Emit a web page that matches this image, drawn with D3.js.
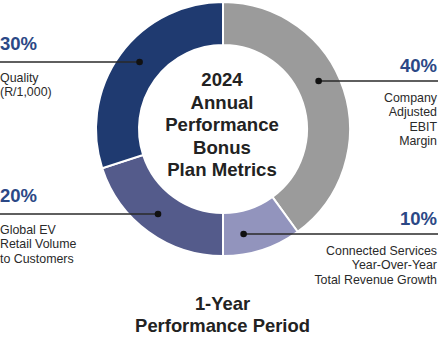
<!DOCTYPE html>
<html><head><meta charset="utf-8">
<script src="https://cdn.jsdelivr.net/npm/d3@7"></script>
<style>html,body{margin:0;padding:0;background:#fff;}svg{display:block;font-family:"Liberation Sans",Arial,sans-serif;}</style>
</head><body>
<svg id="chart" width="438" height="339"></svg>
<script>
const categories = ["Company Adjusted EBIT Margin", "Connected Services Year-Over-Year Total Revenue Growth", "Global EV Retail Volume to Customers", "Quality (R/1,000)"];
const values = [40, 10, 20, 30];
const percentLabels = ["40%", "10%", "20%", "30%"];
const labelLines = [
  ["Company", "Adjusted", "EBIT", "Margin"],
  ["Connected Services", "Year-Over-Year", "Total Revenue Growth"],
  ["Global EV", "Retail Volume", "to Customers"],
  ["Quality", "(R/1,000)"]
];
const colors = ["#9b9b9b", "#9294bd", "#545b8b", "#1f3a70"];
const centerTitle = ["2024", "Annual", "Performance", "Bonus", "Plan Metrics"];
const bottomTitle = ["1-Year", "Performance Period"];

const svg = d3.select("#chart");
const W = 438, cx = 223, cy = 129, R = 127, r = 84, rm = 107;

const pie = d3.pie().sort(null).startAngle(0).endAngle(2 * Math.PI);
const arc = d3.arc().innerRadius(r).outerRadius(R);
const g = svg.append("g").attr("transform", `translate(${cx},${cy})`);
g.selectAll("path").data(pie(values)).join("path")
  .attr("d", arc).attr("fill", (d, i) => colors[i])
  .attr("stroke", "#fff").attr("stroke-width", 2);

// callout layout: side, line y, percent baseline, first text baseline
const layout = [
  {side: "right", ly: 81, py: 71.5, ty: 102},
  {side: "right", ly: 234, py: 225, ty: 255},
  {side: "left", ly: 214, py: 202, ty: 234},
  {side: "left", ly: 62, py: 50, ty: 82}
];
const lh = 14.3;
layout.forEach((L, i) => {
  const dy = L.ly - cy;
  const dx = Math.sqrt(rm * rm - dy * dy);
  const dotX = L.side === "right" ? cx + dx : cx - dx;
  const x0 = L.side === "right" ? dotX : 0;
  const x1 = L.side === "right" ? W : dotX;
  svg.append("line").attr("x1", x0).attr("x2", x1).attr("y1", L.ly).attr("y2", L.ly)
    .attr("stroke", "#2a2a2a").attr("stroke-width", 1.3);
  svg.append("circle").attr("cx", dotX).attr("cy", L.ly).attr("r", 3.3).attr("fill", "#111");
  const anchor = L.side === "right" ? "end" : "start";
  const tx = L.side === "right" ? W - 1 : 0;
  svg.append("text").attr("x", tx).attr("y", L.py).attr("text-anchor", anchor)
    .attr("font-size", 18.5).attr("font-weight", "bold").attr("fill", "#2b4886")
    .text(percentLabels[i]);
  labelLines[i].forEach((t, j) => {
    svg.append("text").attr("x", tx).attr("y", L.ty + j * lh).attr("text-anchor", anchor)
      .attr("font-size", 12.4).attr("fill", "#2a2a2a").text(t);
  });
});

centerTitle.forEach((t, j) => {
  svg.append("text").attr("x", 222).attr("y", 86 + j * 22.5).attr("text-anchor", "middle")
    .attr("font-size", 18.6).attr("font-weight", "bold").attr("fill", "#222").text(t);
});
bottomTitle.forEach((t, j) => {
  svg.append("text").attr("x", 222.5).attr("y", 310 + j * 21.5).attr("text-anchor", "middle")
    .attr("font-size", 18.4).attr("font-weight", "bold").attr("fill", "#222").text(t);
});
</script>
</body></html>
